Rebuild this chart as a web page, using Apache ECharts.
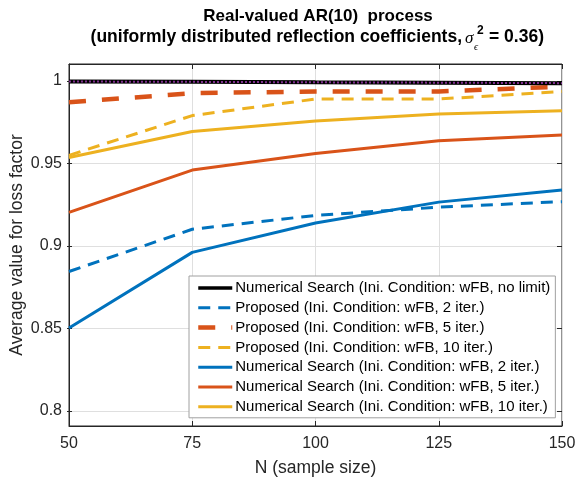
<!DOCTYPE html>
<html>
<head>
<meta charset="utf-8">
<script src="https://cdn.jsdelivr.net/npm/echarts@6/dist/echarts.min.js"></script>
<style>
  html, body { margin: 0; padding: 0; background: #fff; }
  #chart { width: 582px; height: 482px; }
</style>
</head>
<body>
<div id="chart"></div>
<script>
(function() {
  var myChart = echarts.init(document.getElementById('chart'));

  // 数据
  var sampleSize = [50, 75, 100, 125, 150];
  var numNoLimit = [0.9996, 0.9994, 0.9991, 0.9989, 0.9986];
  var prop2 = [0.8835, 0.9093, 0.9178, 0.9228, 0.9262];
  var prop5 = [0.9869, 0.9925, 0.9935, 0.9935, 0.9965];
  var prop10 = [0.9545, 0.9788, 0.9889, 0.9889, 0.9935];
  var num2 = [0.8490, 0.8952, 0.9131, 0.9259, 0.9333];
  var num5 = [0.9196, 0.9455, 0.9556, 0.9634, 0.9669];
  var num10 = [0.9532, 0.9690, 0.9755, 0.9797, 0.9817];
  var yTicks = [0.8, 0.85, 0.9, 0.95, 1];

  var legendNames = [
    'Numerical Search (Ini. Condition: wFB, no limit)',
    'Proposed (Ini. Condition: wFB, 2 iter.)',
    'Proposed (Ini. Condition: wFB, 5 iter.)',
    'Proposed (Ini. Condition: wFB, 10 iter.)',
    'Numerical Search (Ini. Condition: wFB, 2 iter.)',
    'Numerical Search (Ini. Condition: wFB, 5 iter.)',
    'Numerical Search (Ini. Condition: wFB, 10 iter.)'
  ];

  var font = 'Liberation Sans, Arial, Helvetica, sans-serif';
  var blue = '#0072BD', orange = '#D95319', yellow = '#EDB120', purple = '#7E2F8E';

  // plot box in pixels: 1 -> y 81, 0.8 -> y 411
  var pxPer = 330 / 0.2;
  var yMax = 1 + (81 - 64) / pxPer;
  var yMin = 0.8 - (429 - 411) / pxPer;

  function pairs(vals) {
    return sampleSize.map(function(n, i) { return [n, vals[i]]; });
  }

  function line(name, vals, color, width, type, z) {
    return {
      name: name,
      type: 'line',
      xAxisIndex: 0,
      yAxisIndex: 0,
      data: pairs(vals),
      symbol: 'none',
      animation: false,
      z: z || 2,
      lineStyle: { color: color, width: width, type: type },
      itemStyle: { color: color }
    };
  }

  var legendWidths = [3.5, 3, 4.5, 3, 3, 3, 3];

  var option = {
    backgroundColor: '#fff',
    animation: false,
    graphic: [
      { type: 'text', x: 318, y: 16,
        style: { text: 'Real-valued AR(10)  process', font: 'bold 17px ' + font, fill: '#000', align: 'center', verticalAlign: 'middle' } },
      { type: 'text', x: 462, y: 37.5,
        style: { text: '(uniformly distributed reflection coefficients,', font: 'bold 17.5px ' + font, fill: '#000', align: 'right', verticalAlign: 'middle' } },
      { type: 'text', x: 465, y: 39,
        style: { text: 'σ', font: 'italic 17px Liberation Serif, serif', fill: '#000', align: 'left', verticalAlign: 'middle' } },
      { type: 'text', x: 477, y: 31,
        style: { text: '2', font: 'bold 12px ' + font, fill: '#000', align: 'left', verticalAlign: 'middle' } },
      { type: 'text', x: 474, y: 47,
        style: { text: 'ϵ', font: 'italic 10px Liberation Serif, serif', fill: '#000', align: 'left', verticalAlign: 'middle' } },
      { type: 'text', x: 489, y: 37.5,
        style: { text: '= 0.36)', font: 'bold 17.5px ' + font, fill: '#000', align: 'left', verticalAlign: 'middle' } }
    ],
    legend: {
      data: legendNames.map(function(n, i) {
        return { name: n, lineStyle: { width: legendWidths[i] } };
      }),
      orient: 'vertical',
      left: 189,
      top: 276,
      itemWidth: 34,
      itemHeight: 15,
      itemGap: 4.8,
      padding: [4.5, 5, 3.5, 7],
      backgroundColor: '#fff',
      borderColor: '#a0a0a0',
      borderWidth: 1,
      borderRadius: 0,
      selectedMode: false,
      itemStyle: { opacity: 0 },
      textStyle: { fontFamily: font, fontSize: 15, color: '#000', padding: [0, 0, 0, -2] },
      z: 10
    },
    grid: [
      { left: 67, right: 20, top: 64, bottom: 53, show: true, borderColor: '#262626', borderWidth: 1, backgroundColor: 'transparent', containLabel: false },
      { left: 67, right: 20, top: 81, bottom: 71, show: false, containLabel: false }
    ],
    xAxis: [
      {
        type: 'value', gridIndex: 0, min: 50, max: 150, interval: 25,
        name: 'N (sample size)', nameLocation: 'middle', nameGap: 33,
        nameTextStyle: { fontFamily: font, fontSize: 17.5, color: '#262626' },
        axisLine: { show: true, lineStyle: { color: '#262626', width: 1 } },
        axisTick: { show: true, inside: true, length: 5, lineStyle: { color: '#262626' } },
        axisLabel: { fontFamily: font, fontSize: 16, color: '#262626', margin: 10 },
        splitLine: { show: true, lineStyle: { color: '#dfdfdf', width: 1 } }
      },
      {
        type: 'value', gridIndex: 0, min: 50, max: 150, interval: 25, position: 'top',
        axisLine: { show: true, lineStyle: { color: '#262626', width: 1 } },
        axisTick: { show: true, inside: true, length: 5, lineStyle: { color: '#262626' } },
        axisLabel: { show: false },
        splitLine: { show: false }
      },
      {
        type: 'value', gridIndex: 1, min: 50, max: 150, show: false
      }
    ],
    yAxis: [
      {
        type: 'value', gridIndex: 0, min: yMin, max: yMax,
        axisLine: { show: true, lineStyle: { color: '#262626', width: 1 } },
        axisTick: { show: false }, axisLabel: { show: false }, splitLine: { show: false },
        name: 'Average value for loss factor', nameLocation: 'middle', nameGap: 43, nameRotate: 90,
        nameTextStyle: { fontFamily: font, fontSize: 17.5, color: '#262626' }
      },
      {
        type: 'value', gridIndex: 1, min: yTicks[0], max: yTicks[yTicks.length - 1], interval: 0.05,
        axisLine: { show: false },
        axisTick: { show: true, inside: true, length: 5, lineStyle: { color: '#262626' } },
        axisLabel: { fontFamily: font, fontSize: 16, color: '#262626', margin: 5,
          formatter: function(v) { return String(Math.round(v * 100) / 100); } },
        splitLine: { show: true, lineStyle: { color: '#dfdfdf', width: 1 } }
      },
      {
        type: 'value', gridIndex: 1, min: yTicks[0], max: yTicks[yTicks.length - 1], interval: 0.05, position: 'right',
        axisLine: { show: false },
        axisTick: { show: true, inside: true, length: 5, lineStyle: { color: '#262626' } },
        axisLabel: { show: false },
        splitLine: { show: false }
      }
    ],
    series: [
      line(legendNames[0], numNoLimit, '#000000', 4, 'solid', 3),
      line('no limit (dotted)', numNoLimit, purple, 2, [2, 2], 4),
      line(legendNames[4], num2, blue, 3, 'solid'),
      line(legendNames[5], num5, orange, 3, 'solid'),
      line(legendNames[6], num10, yellow, 3, 'solid'),
      line(legendNames[1], prop2, blue, 3, [12, 8]),
      line(legendNames[2], prop5, orange, 4.5, [17, 16]),
      line(legendNames[3], prop10, yellow, 3, [12, 8])
    ]
  };

  myChart.setOption(option);
  window.addEventListener('resize', function() {
    myChart.resize();
  });
})();
</script>
</body>
</html>
